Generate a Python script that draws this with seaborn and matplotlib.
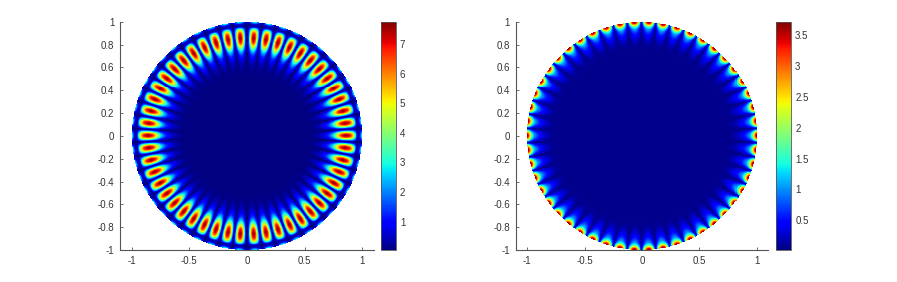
import numpy as np
import pandas as pd
import matplotlib
matplotlib.use("Agg")
import matplotlib.pyplot as plt
import seaborn as sns

# values
lobes = 50
radius_left = [0.0, 0.45, 0.52, 0.59, 0.65, 0.71, 0.75, 0.79, 0.82, 0.86, 0.90, 0.925, 0.945, 0.955, 0.965, 0.98, 0.99, 1.0]
level_left = [0.0, 0.0, 0.05, 0.2, 0.55, 1.4, 2.8, 5.2, 6.9, 7.76, 6.9, 5.2, 2.8, 1.0, 0.2, 0.8, 2.0, 3.2]
radius_right = [0.0, 0.7, 0.8, 0.85, 0.9, 0.94, 0.96, 0.97, 0.98, 0.99, 1.0]
level_right = [0.0, 0.03, 0.12, 0.3, 0.6, 1.1, 1.7, 2.3, 2.9, 3.5, 3.72]
sharpness_left = 1.25
sharpness_right = 1.0
floor_left = 0.0
floor_right = 0.07

xticks = [-1, -0.5, 0, 0.5, 1]
xlabels = ["-1", "-0.5", "0", "0.5", "1"]
yticks = [-1, -0.8, -0.6, -0.4, -0.2, 0, 0.2, 0.4, 0.6, 0.8, 1]
ylabels = ["-1", "-0.8", "-0.6", "-0.4", "-0.2", "0", "0.2", "0.4", "0.6", "0.8", "1"]
cticks_left = [1, 2, 3, 4, 5, 6, 7]
cticks_right = [0.5, 1, 1.5, 2, 2.5, 3, 3.5]
clabels_right = ["0.5", "1", "1.5", "2", "2.5", "3", "3.5"]
range_left = (0.04, 7.76)
range_right = (0.02, 3.715)

sns.set_style("ticks")
plt.rcParams["font.family"] = ["Liberation Sans", "DejaVu Sans"]

GRAY = "#555555"
N = 229  # one cell per pixel, so the lobes do not alias
FINE = 4
W, H = 897, 282


def make_field(radius, level, sharpness, floor):
    # evaluate on a finer grid, then average down to the heatmap cells
    coords = (np.arange(N * FINE) + 0.5) / (N * FINE) * 2 - 1
    xx, yy = np.meshgrid(coords, coords[::-1])
    rr = np.hypot(xx, yy)
    wave = np.abs(np.cos(lobes / 2 * np.arctan2(yy, xx))) ** sharpness
    field = np.maximum(np.interp(rr, radius, level) * wave, floor)
    field = np.where(rr <= 1, field, np.nan)
    blocks = field.reshape(N, FINE, N, FINE)
    count = np.sum(~np.isnan(blocks), axis=(1, 3))
    total = np.nansum(blocks, axis=(1, 3))
    return pd.DataFrame(np.where(count >= FINE * FINE / 2, total / np.maximum(count, 1), np.nan))


def to_cell(v):
    return (np.asarray(v, dtype=float) + 1) / 2 * N


def draw_panel(fig, box, cbox, df, vrange, cticks, clabels):
    ax = fig.add_axes([box[0] / W, 1 - box[3] / H, (box[1] - box[0]) / W, (box[3] - box[2]) / H])
    cax = fig.add_axes([cbox[0] / W, 1 - box[3] / H, (cbox[1] - cbox[0]) / W, (box[3] - box[2]) / H])
    sns.heatmap(df, ax=ax, cbar_ax=cax, cmap="jet", vmin=vrange[0], vmax=vrange[1],
                xticklabels=False, yticklabels=False)
    ax.set_xlim(to_cell(-1.1), to_cell(1.1))
    ax.set_ylim(N, 0)
    ax.set_xticks(to_cell(xticks))
    ax.set_xticklabels(xlabels)
    ax.set_yticks(N - to_cell(yticks))
    ax.set_yticklabels(ylabels, rotation=0)
    ax.tick_params(length=2, width=0.6, direction="in", color=GRAY, labelcolor="#333333", labelsize=7, pad=4)
    sns.despine(ax=ax)
    for side in ["left", "bottom"]:
        ax.spines[side].set_visible(True)
        ax.spines[side].set_color(GRAY)
        ax.spines[side].set_linewidth(0.8)

    cbar = ax.collections[0].colorbar
    cbar.set_ticks(cticks)
    cbar.set_ticklabels(clabels)
    cbar.ax.tick_params(length=2, width=0.6, direction="in", color=GRAY, labelcolor="#333333", labelsize=7, pad=3)
    cbar.outline.set_visible(True)
    cbar.outline.set_edgecolor(GRAY)
    cbar.outline.set_linewidth(0.6)


fig = plt.figure(figsize=(W / 100, H / 100), dpi=100)
draw_panel(fig, (120, 374, 21.7, 250), (381, 395.7), make_field(radius_left, level_left, sharpness_left, floor_left),
           range_left, cticks_left, [str(c) for c in cticks_left])
draw_panel(fig, (515.7, 768, 21.7, 250), (776.3, 791), make_field(radius_right, level_right, sharpness_right, floor_right),
           range_right, cticks_right, clabels_right)
fig.savefig("out.png", dpi=100)
